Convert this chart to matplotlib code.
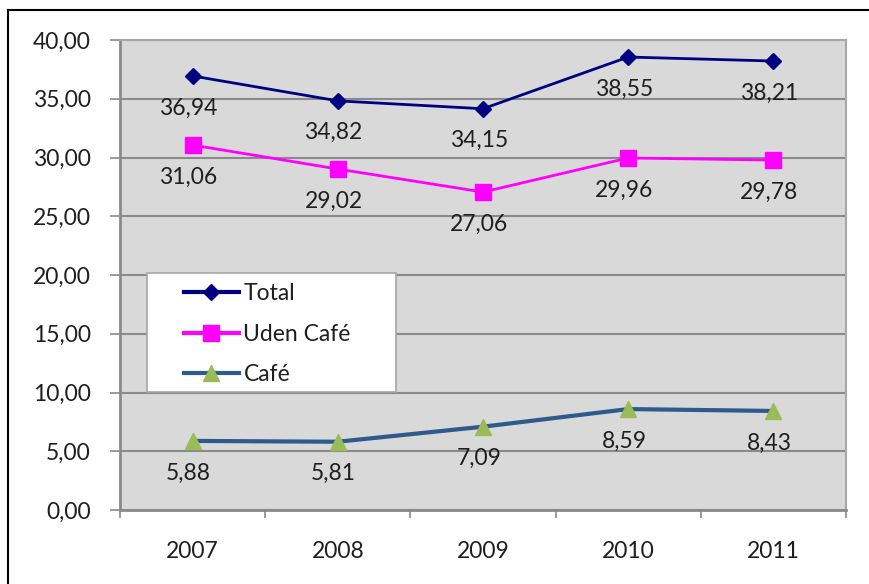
import matplotlib.pyplot as plt
from matplotlib.lines import Line2D
from matplotlib.patches import Rectangle

plt.rcParams['font.family'] = ['Lato', 'DejaVu Sans']

# Data
years = ["2007", "2008", "2009", "2010", "2011"]
total = [36.94, 34.82, 34.15, 38.55, 38.21]
uden_cafe = [31.06, 29.02, 27.06, 29.96, 29.78]
cafe = [5.88, 5.81, 7.09, 8.59, 8.43]


def fmt(v):
    return f"{v:.2f}".replace(".", ",")


fig = plt.figure(figsize=(8.69, 5.84), dpi=100)
ax = fig.add_axes([0.1381, 0.1267, 0.8354, 0.8048])
ax.set_facecolor("#D9D9D9")

x = [i + 0.5 for i in range(len(years))]

series = [
    ("Total", total, dict(color="#000080", lw=2, marker="D", ms=8,
                          mfc="#000080", mec="#000080")),
    ("Uden Café", uden_cafe, dict(color="#FF00FF", lw=2, marker="s", ms=11,
                                  mfc="#FF00FF", mec="#FF00FF")),
    ("Café", cafe, dict(color="#2F5A8C", lw=3, marker="^", ms=11,
                        mfc="#9BBB59", mec="#9BBB59")),
]

handles = []
for name, vals, style in series:
    h, = ax.plot(x, vals, label=name, zorder=3, **style)
    handles.append(h)
    for xi, v in zip(x, vals):
        ax.annotate(fmt(v), (xi, v), xytext=(-3, -23), textcoords="offset points",
                    ha="center", va="center", fontsize=16.5, color="#1F1F1F", zorder=4)

ax.set_xlim(0, 5)
ax.set_ylim(0, 40)
ax.set_yticks(range(0, 41, 5))
ax.set_yticklabels([fmt(v) for v in range(0, 41, 5)])
ax.yaxis.grid(True, color="#8A8A8A", lw=1.5)
ax.set_axisbelow(True)

# category boundaries as major ticks, year labels on minor ticks
ax.set_xticks(range(0, 6))
ax.set_xticklabels([])
ax.set_xticks(x, minor=True)
ax.set_xticklabels(years, minor=True)
ax.tick_params(axis="x", which="major", length=6, width=1.2, color="#8A8A8A")
ax.tick_params(axis="x", which="minor", length=0, pad=22, labelsize=16.5, labelcolor="#1F1F1F")
ax.tick_params(axis="y", length=7, width=1.2, color="#8A8A8A", pad=14,
               labelsize=16.5, labelcolor="#1F1F1F")

for side in ["left", "bottom"]:
    ax.spines[side].set_color("#8A8A8A")
    ax.spines[side].set_linewidth(2)
for side in ["top", "right"]:
    ax.spines[side].set_color("#A6A6A6")
    ax.spines[side].set_linewidth(1.5)

# legend box
ax.add_patch(Rectangle((0.037, 0.251), 0.343, 0.253, transform=ax.transAxes,
                       facecolor="white", edgecolor="#A6A6A6", lw=1.2, zorder=5))
leg = ax.legend(handles=handles, loc="upper left", bbox_to_anchor=(0.088, 0.482),
                frameon=False, fontsize=16.5, handlelength=2.4, handletextpad=0.2,
                labelspacing=0.85, borderaxespad=0, borderpad=0)
leg.set_zorder(6)
for t in leg.get_texts():
    t.set_color("#1F1F1F")
for lh in leg.get_lines():
    lh.set_linewidth(3)

# outer frame (cut off at right and bottom)
fig.add_artist(Line2D([8 / 869, 8 / 869], [0, 1 - 10 / 584], color="black", lw=1.5))
fig.add_artist(Line2D([8 / 869, 1], [1 - 10 / 584, 1 - 10 / 584], color="black", lw=1.5))

fig.savefig("out.png", dpi=100)
